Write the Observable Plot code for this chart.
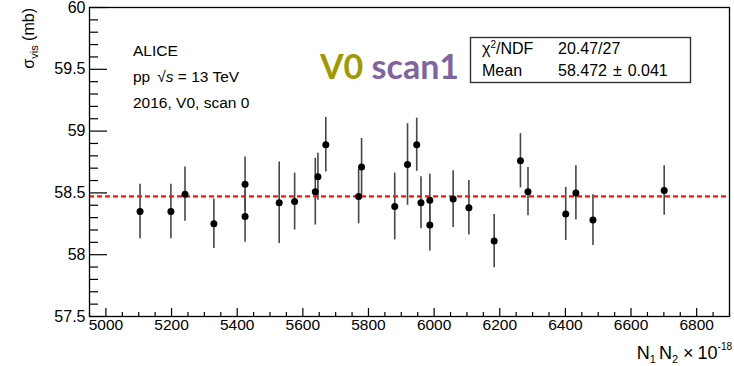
<!DOCTYPE html>
<html><head><meta charset="utf-8">
<script src="https://cdn.jsdelivr.net/npm/d3@7"></script>
<script src="https://cdn.jsdelivr.net/npm/@observablehq/plot@0.6"></script>
<style>body{margin:0;background:#fff;} #chart svg{display:block}</style>
</head><body><div id="chart"></div>
<script>
// Data
const xVals = [5104, 5198, 5241, 5329, 5424, 5424, 5528, 5575, 5638, 5646, 5670, 5770, 5779, 5880, 5919, 5947, 5960, 5987, 5987, 6058, 6106, 6183, 6263, 6286, 6401, 6432, 6484, 6701];
const yVals = [58.35, 58.35, 58.49, 58.25, 58.57, 58.31, 58.42, 58.43, 58.51, 58.63, 58.89, 58.47, 58.71, 58.39, 58.73, 58.89, 58.42, 58.44, 58.24, 58.45, 58.38, 58.11, 58.76, 58.51, 58.33, 58.50, 58.28, 58.52];
const yErrs = [0.22, 0.22, 0.22, 0.20, 0.22, 0.21, 0.33, 0.23, 0.27, 0.19, 0.22, 0.22, 0.23, 0.27, 0.33, 0.215, 0.21, 0.21, 0.21, 0.23, 0.22, 0.215, 0.22, 0.195, 0.215, 0.22, 0.205, 0.20];
const fitMean = 58.472;
const fitMeanErrText = "0.041";
const chi2Text = "20.47/27";
const xMajorTicks = [5000, 5200, 5400, 5600, 5800, 6000, 6200, 6400, 6600, 6800];
const xMinorTicks = d3.range(4950, 6901, 50).filter(v => v % 200 !== 0);
const yMajorTicks = [57.5, 58, 58.5, 59, 59.5, 60];
const yMinorTicks = d3.range(576, 600).filter(v => v % 5 !== 0).map(v => v / 10);
const infoLines = ["ALICE", "pp", "2016, V0, scan 0"];

const W = 734, H = 366, mL = 89, mR = 5, mT = 7, mB = 50;
const fw = W - mL - mR, fh = H - mT - mB;
const idx = d3.range(xVals.length);
const FONT = "'Liberation Sans', Arial, Helvetica, sans-serif";

const plot = Plot.plot({
  width: W, height: H,
  marginLeft: mL, marginRight: mR, marginTop: mT, marginBottom: mB,
  style: {fontFamily: FONT, fontSize: "16px", background: "white", color: "black"},
  x: {domain: [4950, 6900]},
  y: {domain: [57.5, 60]},
  marks: [
    Plot.tickY(yMajorTicks, {y: d => d, insetRight: fw - 18, stroke: "black", strokeWidth: 1.2}),
    Plot.tickY(yMinorTicks, {y: d => d, insetRight: fw - 9, stroke: "black", strokeWidth: 1.2}),
    Plot.tickX(xMajorTicks, {x: d => d, insetTop: fh - 8, stroke: "black", strokeWidth: 1.2}),
    Plot.tickX(xMinorTicks, {x: d => d, insetTop: fh - 4, stroke: "black", strokeWidth: 1.2}),
    Plot.ruleX(idx, {x: i => xVals[i], y1: i => yVals[i] - yErrs[i], y2: i => yVals[i] + yErrs[i], stroke: "#474747", strokeWidth: 1.6}),
    Plot.ruleY([fitMean], {stroke: "#ff1010", strokeWidth: 2.3, strokeDasharray: "5,3"}),
    Plot.dot(idx, {x: i => xVals[i], y: i => yVals[i], r: 3.5, fill: "black", stroke: "none"}),
    Plot.frame({stroke: "black", strokeWidth: 1.3}),
    Plot.axisY({ticks: yMajorTicks, tickSize: 0, tickPadding: 4, fontSize: 16, tickFormat: d => String(d), label: null}),
    Plot.axisX({ticks: xMajorTicks, tickSize: 0, tickPadding: 2, fontSize: 15.5, tickFormat: d => String(d), label: null})
  ]
});
document.getElementById("chart").appendChild(plot);

const svg = d3.select(plot);
const g = svg.append("g").attr("font-family", FONT).attr("fill", "black").attr("text-anchor", "start");

// Info block
g.append("text").attr("x", 133).attr("y", 56).attr("font-size", 15.5).text(infoLines[0]);
const t2 = g.append("text").attr("x", 133).attr("y", 82).attr("font-size", 15.5);
t2.append("tspan").text(infoLines[1]);
t2.append("tspan").attr("dx", 7).text("\u221A");
t2.append("tspan").attr("font-style", "italic").text("s");
t2.append("tspan").text(" = 13 TeV");
g.append("text").attr("x", 133).attr("y", 108).attr("font-size", 15.5).text(infoLines[2]);

// V0 scan1
const vt = g.append("text").attr("x", 320).attr("y", 79).attr("font-size", 34)
  .attr("font-weight", "bold").attr("font-family", "Lato, 'Open Sans', sans-serif");
vt.append("tspan").attr("fill", "#a09a00").text("V0 ");
vt.append("tspan").attr("fill", "#8064a2").text("scan1");

// Stats box
g.append("rect").attr("x", 470.5).attr("y", 37.5).attr("width", 220).attr("height", 45)
  .attr("fill", "white").attr("stroke", "#333").attr("stroke-width", 1.4);
const s1 = g.append("text").attr("x", 482).attr("y", 54).attr("font-size", 16);
s1.append("tspan").text("\u03C7");
s1.append("tspan").attr("font-size", 10).attr("dy", -6).text("2");
s1.append("tspan").attr("dy", 6).text("/NDF");
g.append("text").attr("x", 558).attr("y", 54).attr("font-size", 16).text(chi2Text);
g.append("text").attr("x", 482).attr("y", 76).attr("font-size", 16).text("Mean");
const s4 = g.append("text").attr("x", 558).attr("y", 76).attr("font-size", 16);
s4.append("tspan").text(String(fitMean));
s4.append("tspan").attr("dx", 6).text("\u00B1");
s4.append("tspan").attr("dx", 6).text(fitMeanErrText);

// Y-axis title
const yt = g.append("text").attr("transform", "translate(34,8) rotate(-90)")
  .attr("text-anchor", "end").attr("font-size", 16);
yt.append("tspan").text("\u03C3");
yt.append("tspan").attr("font-size", 11).attr("dy", 4).text("vis");
yt.append("tspan").attr("dy", -4).text(" (mb)");

// X-axis title
const xt = g.append("text").attr("x", 732).attr("y", 359).attr("text-anchor", "end").attr("font-size", 18);
xt.append("tspan").text("N");
xt.append("tspan").attr("font-size", 11).attr("dy", 4).text("1");
xt.append("tspan").attr("dy", -4).attr("dx", 3).text("N");
xt.append("tspan").attr("font-size", 11).attr("dy", 4).text("2");
xt.append("tspan").attr("dy", -4).attr("dx", 5).text("\u00D7");
xt.append("tspan").attr("dx", 4).text("10");
xt.append("tspan").attr("font-size", 10).attr("dy", -9).text("-18");
</script>
</body></html>
